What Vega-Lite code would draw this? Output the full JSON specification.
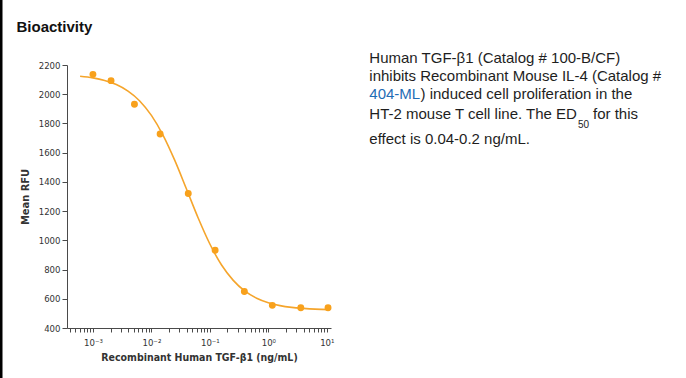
{
  "$schema": "https://vega.github.io/schema/vega-lite/v6.json",
  "width": 264,
  "height": 263,
  "autosize": "none",
  "padding": {"left": 67, "top": 65, "right": 355, "bottom": 50},
  "background": "white",
  "resolve": {"axis": {"x": "independent", "y": "independent"}},
  "config": {
    "font": "Liberation Sans",
    "view": {"stroke": null},
    "axis": {
      "grid": false,
      "domainColor": "#4a4a4a",
      "tickColor": "#4a4a4a",
      "labelColor": "#333333",
      "titleColor": "#333333",
      "labelFont": "Liberation Sans Narrow, DejaVu Sans Condensed, sans-serif",
      "titleFont": "Liberation Sans Narrow, DejaVu Sans Condensed, sans-serif",
      "titleFontWeight": "bold"
    }
  },
  "datasets": {
    "points": [
      {"conc": 0.001, "rfu": 2136},
      {"conc": 0.00204, "rfu": 2093},
      {"conc": 0.00513, "rfu": 1931},
      {"conc": 0.0141, "rfu": 1728},
      {"conc": 0.0427, "rfu": 1320},
      {"conc": 0.123, "rfu": 932},
      {"conc": 0.389, "rfu": 650},
      {"conc": 1.17, "rfu": 555},
      {"conc": 3.59, "rfu": 539},
      {"conc": 10.5, "rfu": 539}
    ],
    "curve": [
      {"conc": 0.000603, "rfu": 2123},
      {"conc": 0.001, "rfu": 2112},
      {"conc": 0.001585, "rfu": 2094},
      {"conc": 0.002512, "rfu": 2066},
      {"conc": 0.003981, "rfu": 2021},
      {"conc": 0.00631, "rfu": 1954},
      {"conc": 0.01, "rfu": 1855},
      {"conc": 0.01585, "rfu": 1719},
      {"conc": 0.02512, "rfu": 1547},
      {"conc": 0.03981, "rfu": 1351},
      {"conc": 0.0631, "rfu": 1153},
      {"conc": 0.1, "rfu": 975},
      {"conc": 0.1585, "rfu": 831},
      {"conc": 0.2512, "rfu": 726},
      {"conc": 0.3981, "rfu": 652},
      {"conc": 0.631, "rfu": 604},
      {"conc": 1.0, "rfu": 573},
      {"conc": 1.585, "rfu": 553},
      {"conc": 2.512, "rfu": 541},
      {"conc": 3.981, "rfu": 534},
      {"conc": 6.31, "rfu": 529},
      {"conc": 11.22, "rfu": 526}
    ],
    "one": [{}]
  },
  "layer": [
    {
      "data": {"name": "curve"},
      "mark": {"type": "line", "color": "#F5A52C", "strokeWidth": 1.6, "interpolate": "monotone"},
      "encoding": {
        "x": {
          "field": "conc",
          "type": "quantitative",
          "title": "Recombinant Human TGF-β1 (ng/mL)",
          "scale": {"type": "log", "domain": [0.00036, 11.8], "nice": false},
          "axis": {
            "values": [0.0004, 0.0005, 0.0006, 0.0007, 0.0008, 0.0009, 0.001, 0.002, 0.003, 0.004, 0.005, 0.006, 0.007, 0.008, 0.009, 0.01, 0.02, 0.03, 0.04, 0.05, 0.06, 0.07, 0.08, 0.09, 0.1, 0.2, 0.3, 0.4, 0.5, 0.6, 0.7, 0.8, 0.9, 1, 2, 3, 4, 5, 6, 7, 8, 9, 10],
            "labelExpr": "abs(log(datum.value)/LN10 - round(log(datum.value)/LN10)) < 0.001 ? (round(log(datum.value)/LN10) == -3 ? '10⁻³' : round(log(datum.value)/LN10) == -2 ? '10⁻²' : round(log(datum.value)/LN10) == -1 ? '10⁻¹' : round(log(datum.value)/LN10) == 0 ? '10⁰' : '10¹') : ''",
            "labelOverlap": false,
            "labelFontSize": 9.5,
            "tickSize": 4,
            "labelPadding": 5,
            "titleFontSize": 10.5,
            "titlePadding": 6
          }
        },
        "y": {
          "field": "rfu",
          "type": "quantitative",
          "title": "Mean RFU",
          "scale": {"domain": [400, 2200], "nice": false, "zero": false},
          "axis": {
            "values": [400, 600, 800, 1000, 1200, 1400, 1600, 1800, 2000, 2200],
            "format": "d",
            "labelOverlap": false,
            "labelFontSize": 9.5,
            "tickSize": 5,
            "labelPadding": 2,
            "titleFontSize": 11,
            "titlePadding": 8
          }
        }
      }
    },
    {
      "data": {"name": "points"},
      "mark": {"type": "circle", "color": "#F8A11C", "opacity": 1, "size": 48},
      "encoding": {
        "x": {"field": "conc", "type": "quantitative", "axis": null, "scale": {"type": "log", "domain": [0.00036, 11.8], "nice": false}},
        "y": {"field": "rfu", "type": "quantitative", "axis": null, "scale": {"domain": [400, 2200], "nice": false, "zero": false}}
      }
    },
    {
      "data": {"name": "one"},
      "mark": {"type": "rule", "color": "#000000", "strokeWidth": 2.5},
      "encoding": {
        "x": {"datum": 2.702e-5, "type": "quantitative", "axis": null, "scale": {"type": "log", "domain": [0.00036, 11.8], "nice": false}},
        "y": {"datum": 2670, "type": "quantitative", "axis": null, "scale": {"domain": [400, 2200], "nice": false, "zero": false}},
        "y2": {"datum": 30}
      }
    },
    {
      "data": {"name": "one"},
      "mark": {"type": "text", "align": "left", "baseline": "alphabetic", "font": "Liberation Sans", "fontSize": 15, "fontWeight": "bold", "color": "#111111"},
      "encoding": {
        "x": {"datum": 4.926e-5, "type": "quantitative", "axis": null, "scale": {"type": "log", "domain": [0.00036, 11.8], "nice": false}},
        "y": {"datum": 2425.9, "type": "quantitative", "axis": null, "scale": {"domain": [400, 2200], "nice": false, "zero": false}},
        "text": {"value": "Bioactivity"}
      }
    },
    {
      "data": {"name": "one"},
      "mark": {"type": "text", "align": "left", "baseline": "alphabetic", "font": "Liberation Sans", "fontSize": 15, "color": "#1e1e1e"},
      "encoding": {
        "x": {"datum": 53.33, "type": "quantitative", "axis": null, "scale": {"type": "log", "domain": [0.00036, 11.8], "nice": false}},
        "y": {"datum": 2211.6, "type": "quantitative", "axis": null, "scale": {"domain": [400, 2200], "nice": false, "zero": false}},
        "text": {"value": "Human TGF-β1 (Catalog # 100-B/CF)"}
      }
    },
    {
      "data": {"name": "one"},
      "mark": {"type": "text", "align": "left", "baseline": "alphabetic", "font": "Liberation Sans", "fontSize": 15, "color": "#1e1e1e"},
      "encoding": {
        "x": {"datum": 53.33, "type": "quantitative", "axis": null, "scale": {"type": "log", "domain": [0.00036, 11.8], "nice": false}},
        "y": {"datum": 2090.5, "type": "quantitative", "axis": null, "scale": {"domain": [400, 2200], "nice": false, "zero": false}},
        "text": {"value": "inhibits Recombinant Mouse IL-4 (Catalog #"}
      }
    },
    {
      "data": {"name": "one"},
      "mark": {"type": "text", "align": "left", "baseline": "alphabetic", "font": "Liberation Sans", "fontSize": 15, "color": "#1f6db5"},
      "encoding": {
        "x": {"datum": 53.33, "type": "quantitative", "axis": null, "scale": {"type": "log", "domain": [0.00036, 11.8], "nice": false}},
        "y": {"datum": 1965.2, "type": "quantitative", "axis": null, "scale": {"domain": [400, 2200], "nice": false, "zero": false}},
        "text": {"value": "404-ML"}
      }
    },
    {
      "data": {"name": "one"},
      "mark": {"type": "text", "align": "left", "baseline": "alphabetic", "font": "Liberation Sans", "fontSize": 15, "color": "#1e1e1e"},
      "encoding": {
        "x": {"datum": 400.6, "type": "quantitative", "axis": null, "scale": {"type": "log", "domain": [0.00036, 11.8], "nice": false}},
        "y": {"datum": 1965.2, "type": "quantitative", "axis": null, "scale": {"domain": [400, 2200], "nice": false, "zero": false}},
        "text": {"value": ") induced cell proliferation in the"}
      }
    },
    {
      "data": {"name": "one"},
      "mark": {"type": "text", "align": "left", "baseline": "alphabetic", "font": "Liberation Sans", "fontSize": 15, "color": "#1e1e1e"},
      "encoding": {
        "x": {"datum": 53.33, "type": "quantitative", "axis": null, "scale": {"type": "log", "domain": [0.00036, 11.8], "nice": false}},
        "y": {"datum": 1830.4, "type": "quantitative", "axis": null, "scale": {"domain": [400, 2200], "nice": false, "zero": false}},
        "text": {"value": "HT-2 mouse T cell line. The ED"}
      }
    },
    {
      "data": {"name": "one"},
      "mark": {"type": "text", "align": "left", "baseline": "alphabetic", "font": "Liberation Sans", "fontSize": 10, "color": "#1e1e1e"},
      "encoding": {
        "x": {"datum": 198000, "type": "quantitative", "axis": null, "scale": {"type": "log", "domain": [0.00036, 11.8], "nice": false}},
        "y": {"datum": 1766.8, "type": "quantitative", "axis": null, "scale": {"domain": [400, 2200], "nice": false, "zero": false}},
        "text": {"value": "50"}
      }
    },
    {
      "data": {"name": "one"},
      "mark": {"type": "text", "align": "left", "baseline": "alphabetic", "font": "Liberation Sans", "fontSize": 15, "color": "#1e1e1e"},
      "encoding": {
        "x": {"datum": 357500, "type": "quantitative", "axis": null, "scale": {"type": "log", "domain": [0.00036, 11.8], "nice": false}},
        "y": {"datum": 1830.4, "type": "quantitative", "axis": null, "scale": {"domain": [400, 2200], "nice": false, "zero": false}},
        "text": {"value": "for this"}
      }
    },
    {
      "data": {"name": "one"},
      "mark": {"type": "text", "align": "left", "baseline": "alphabetic", "font": "Liberation Sans", "fontSize": 15, "color": "#1e1e1e"},
      "encoding": {
        "x": {"datum": 53.33, "type": "quantitative", "axis": null, "scale": {"type": "log", "domain": [0.00036, 11.8], "nice": false}},
        "y": {"datum": 1657.3, "type": "quantitative", "axis": null, "scale": {"domain": [400, 2200], "nice": false, "zero": false}},
        "text": {"value": "effect is 0.04-0.2 ng/mL."}
      }
    }
  ]
}
